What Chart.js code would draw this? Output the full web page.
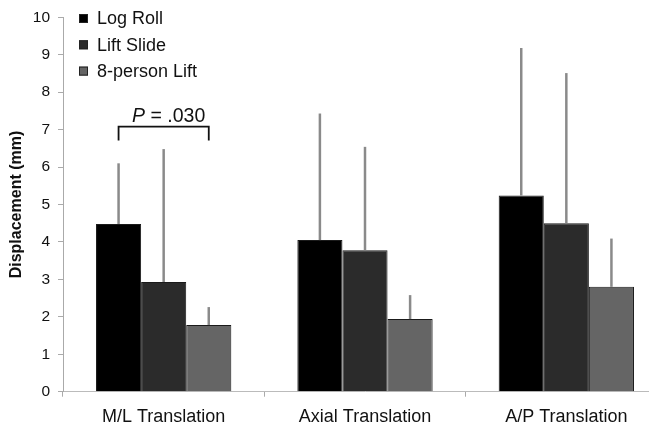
<!DOCTYPE html>
<html>
<head>
<meta charset="utf-8">
<script src="https://cdn.jsdelivr.net/npm/chart.js@4.4.0/dist/chart.umd.min.js"></script>
<style>
  html, body { margin: 0; padding: 0; background: #fff; overflow: hidden; }
  #wrap { width: 649px; height: 428px; overflow: hidden; }
</style>
</head>
<body>
<div id="wrap"><canvas id="chart" width="670" height="428"></canvas></div>
<script>
const categories = ['M/L Translation', 'Axial Translation', 'A/P Translation'];
const seriesNames = ['Log Roll', 'Lift Slide', '8-person Lift'];
const logRoll = [4.48, 4.05, 5.24];
const liftSlide = [2.93, 3.78, 4.5];
const eightPerson = [1.78, 1.94, 2.8];
// upward SD whiskers
const logRollSd = [1.62, 3.38, 3.94];
const liftSlideSd = [3.55, 2.76, 4.01];
const eightPersonSd = [0.48, 0.64, 1.29];
const yTicks = [0, 1, 2, 3, 4, 5, 6, 7, 8, 9, 10];
const pLabel = '.030';
const pLevel = 7.08;

const colors = ['#000000', '#2b2b2b', '#656565'];
const sds = [logRollSd, liftSlideSd, eightPersonSd];
const font = "Arial, 'Liberation Sans', sans-serif";

const errorBars = {
    id: 'errorBars',
    afterDatasetsDraw(chart) {
        const ctx = chart.ctx;
        const y = chart.scales.y;
        ctx.save();
        ctx.strokeStyle = '#8a8a8a';
        ctx.lineWidth = 2.5;
        chart.data.datasets.forEach((ds, i) => {
            chart.getDatasetMeta(i).data.forEach((bar, j) => {
                const top = y.getPixelForValue(ds.data[j] + sds[i][j]);
                ctx.beginPath();
                ctx.moveTo(bar.x, bar.y);
                ctx.lineTo(bar.x, top);
                ctx.stroke();
            });
        });
        ctx.restore();
    }
};

const extras = {
    id: 'extras',
    afterDraw(chart) {
        const ctx = chart.ctx;
        const y = chart.scales.y;
        ctx.save();
        // legend
        ctx.font = '18px ' + font;
        ctx.textBaseline = 'middle';
        seriesNames.forEach((name, i) => {
            const cy = 18.5 + i * 26.3;
            ctx.fillStyle = colors[i];
            ctx.fillRect(79, cy - 4.5, 9, 9);
            ctx.strokeStyle = '#222';
            ctx.lineWidth = 1;
            ctx.strokeRect(79.5, cy - 4, 8, 8);
            ctx.fillStyle = '#111';
            ctx.fillText(name, 97, cy + 1);
        });
        // significance bracket
        const a = chart.getDatasetMeta(0).data[0];
        const b = chart.getDatasetMeta(2).data[0];
        const top = y.getPixelForValue(pLevel);
        ctx.strokeStyle = '#111';
        ctx.lineWidth = 1.8;
        ctx.beginPath();
        ctx.moveTo(a.x, top + 14);
        ctx.lineTo(a.x, top);
        ctx.lineTo(b.x, top);
        ctx.lineTo(b.x, top + 14);
        ctx.stroke();
        const italic = 'italic 19.5px ' + font;
        const normal = '19.5px ' + font;
        ctx.font = italic;
        const w1 = ctx.measureText('P').width;
        ctx.font = normal;
        const rest = ' = ' + pLabel;
        const w2 = ctx.measureText(rest).width;
        let x = (a.x + b.x) / 2 - (w1 + w2) / 2 + 5;
        ctx.textBaseline = 'alphabetic';
        ctx.fillStyle = '#111';
        ctx.font = italic;
        ctx.fillText('P', x, top - 5);
        ctx.font = normal;
        ctx.fillText(rest, x + w1, top - 5);
        ctx.restore();
    }
};

new Chart(document.getElementById('chart'), {
    type: 'bar',
    data: {
        labels: categories,
        datasets: [logRoll, liftSlide, eightPerson].map((d, i) => ({
            label: seriesNames[i],
            data: d,
            backgroundColor: colors[i],
            borderColor: '#1a1a1a',
            borderWidth: 1,
            categoryPercentage: 0.672,
            barPercentage: 1.0
        }))
    },
    options: {
        responsive: false,
        animation: false,
        layout: { padding: { top: 16, right: 3, left: 0, bottom: 0 } },
        plugins: {
            legend: { display: false },
            tooltip: { enabled: false }
        },
        scales: {
            x: {
                grid: { offset: true, drawOnChartArea: false, tickLength: 5, color: '#aaa' },
                border: { color: '#bbb' },
                ticks: { color: '#111', font: { size: 18, family: font }, padding: 10 },
                afterFit(scale) { scale.height = 36.3; }
            },
            y: {
                min: 0,
                max: 10,
                afterBuildTicks(scale) { scale.ticks = yTicks.map(v => ({ value: v })); },
                grid: { drawOnChartArea: false, tickLength: 5, color: '#aaa' },
                border: { color: '#aaa' },
                ticks: { color: '#111', font: { size: 15.5, family: font }, padding: 8 },
                title: {
                    display: true,
                    text: 'Displacement (mm)',
                    color: '#111',
                    font: { size: 16, weight: 'bold', family: font },
                    padding: { top: 7, bottom: 0 }
                },
                afterFit(scale) { scale.width = 63; }
            }
        }
    },
    plugins: [errorBars, extras]
});
</script>
</body>
</html>
